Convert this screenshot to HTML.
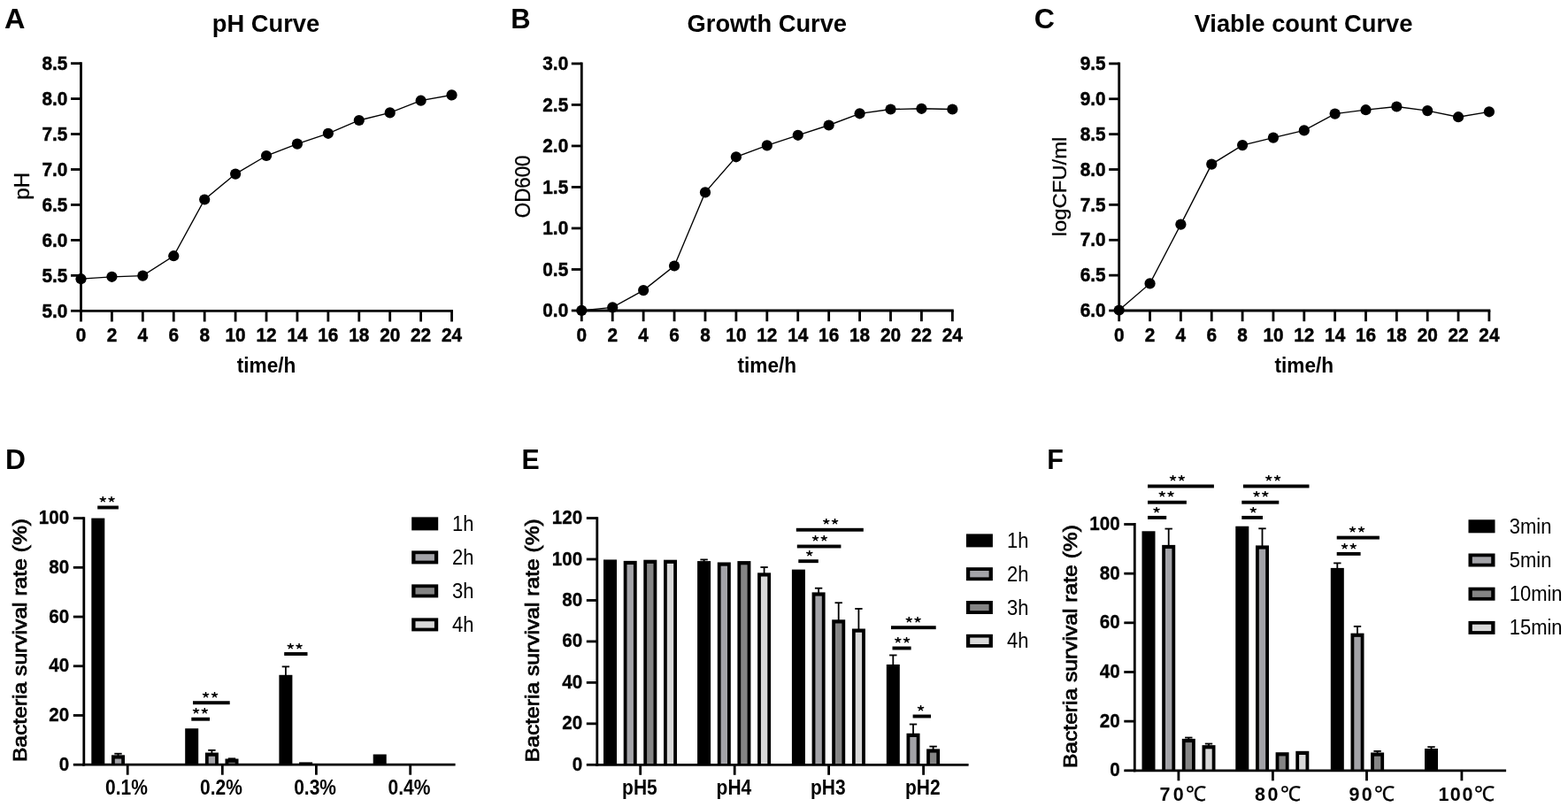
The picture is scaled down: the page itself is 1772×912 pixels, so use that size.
<!DOCTYPE html><html><head><meta charset="utf-8"><title>Figure</title><style>html,body{margin:0;padding:0;background:#fff;}svg{display:block;}</style></head><body>
<svg width="1772" height="912" viewBox="0 0 1772 912" font-family='"Liberation Sans", Arial, sans-serif'>
<rect width="1772" height="912" fill="#fff"/>
<text transform="translate(5.1,32.45) scale(1.03,1)" font-size="31.5" font-weight="bold" text-anchor="start">A</text>
<text transform="translate(300.5,35.8)" font-size="27.3" font-weight="bold" text-anchor="middle">pH Curve</text>
<line x1="91.5" y1="70.25" x2="91.5" y2="352.7" stroke="#000" stroke-width="2.8" stroke-linecap="butt"/>
<line x1="90.1" y1="351.3" x2="511.94" y2="351.3" stroke="#000" stroke-width="2.8" stroke-linecap="butt"/>
<line x1="80" y1="351.3" x2="91.5" y2="351.3" stroke="#000" stroke-width="2.8" stroke-linecap="butt"/>
<text transform="translate(76.4,358.5) scale(1,1.1)" font-size="20.8" font-weight="bold" text-anchor="end" stroke="#000" stroke-width="0.45">5.0</text>
<line x1="80" y1="311.35" x2="91.5" y2="311.35" stroke="#000" stroke-width="2.8" stroke-linecap="butt"/>
<text transform="translate(76.4,318.55) scale(1,1.1)" font-size="20.8" font-weight="bold" text-anchor="end" stroke="#000" stroke-width="0.45">5.5</text>
<line x1="80" y1="271.4" x2="91.5" y2="271.4" stroke="#000" stroke-width="2.8" stroke-linecap="butt"/>
<text transform="translate(76.4,278.6) scale(1,1.1)" font-size="20.8" font-weight="bold" text-anchor="end" stroke="#000" stroke-width="0.45">6.0</text>
<line x1="80" y1="231.45" x2="91.5" y2="231.45" stroke="#000" stroke-width="2.8" stroke-linecap="butt"/>
<text transform="translate(76.4,238.65) scale(1,1.1)" font-size="20.8" font-weight="bold" text-anchor="end" stroke="#000" stroke-width="0.45">6.5</text>
<line x1="80" y1="191.5" x2="91.5" y2="191.5" stroke="#000" stroke-width="2.8" stroke-linecap="butt"/>
<text transform="translate(76.4,198.7) scale(1,1.1)" font-size="20.8" font-weight="bold" text-anchor="end" stroke="#000" stroke-width="0.45">7.0</text>
<line x1="80" y1="151.55" x2="91.5" y2="151.55" stroke="#000" stroke-width="2.8" stroke-linecap="butt"/>
<text transform="translate(76.4,158.75) scale(1,1.1)" font-size="20.8" font-weight="bold" text-anchor="end" stroke="#000" stroke-width="0.45">7.5</text>
<line x1="80" y1="111.6" x2="91.5" y2="111.6" stroke="#000" stroke-width="2.8" stroke-linecap="butt"/>
<text transform="translate(76.4,118.8) scale(1,1.1)" font-size="20.8" font-weight="bold" text-anchor="end" stroke="#000" stroke-width="0.45">8.0</text>
<line x1="80" y1="71.65" x2="91.5" y2="71.65" stroke="#000" stroke-width="2.8" stroke-linecap="butt"/>
<text transform="translate(76.4,78.85) scale(1,1.1)" font-size="20.8" font-weight="bold" text-anchor="end" stroke="#000" stroke-width="0.45">8.5</text>
<line x1="91.5" y1="351.3" x2="91.5" y2="363.5" stroke="#000" stroke-width="2.8" stroke-linecap="butt"/>
<text transform="translate(91.5,386) scale(1,1.1)" font-size="20.8" font-weight="bold" text-anchor="middle" stroke="#000" stroke-width="0.45">0</text>
<line x1="126.42" y1="351.3" x2="126.42" y2="363.5" stroke="#000" stroke-width="2.8" stroke-linecap="butt"/>
<text transform="translate(126.42,386) scale(1,1.1)" font-size="20.8" font-weight="bold" text-anchor="middle" stroke="#000" stroke-width="0.45">2</text>
<line x1="161.34" y1="351.3" x2="161.34" y2="363.5" stroke="#000" stroke-width="2.8" stroke-linecap="butt"/>
<text transform="translate(161.34,386) scale(1,1.1)" font-size="20.8" font-weight="bold" text-anchor="middle" stroke="#000" stroke-width="0.45">4</text>
<line x1="196.26" y1="351.3" x2="196.26" y2="363.5" stroke="#000" stroke-width="2.8" stroke-linecap="butt"/>
<text transform="translate(196.26,386) scale(1,1.1)" font-size="20.8" font-weight="bold" text-anchor="middle" stroke="#000" stroke-width="0.45">6</text>
<line x1="231.18" y1="351.3" x2="231.18" y2="363.5" stroke="#000" stroke-width="2.8" stroke-linecap="butt"/>
<text transform="translate(231.18,386) scale(1,1.1)" font-size="20.8" font-weight="bold" text-anchor="middle" stroke="#000" stroke-width="0.45">8</text>
<line x1="266.1" y1="351.3" x2="266.1" y2="363.5" stroke="#000" stroke-width="2.8" stroke-linecap="butt"/>
<text transform="translate(266.1,386) scale(1,1.1)" font-size="20.8" font-weight="bold" text-anchor="middle" stroke="#000" stroke-width="0.45">10</text>
<line x1="301.02" y1="351.3" x2="301.02" y2="363.5" stroke="#000" stroke-width="2.8" stroke-linecap="butt"/>
<text transform="translate(301.02,386) scale(1,1.1)" font-size="20.8" font-weight="bold" text-anchor="middle" stroke="#000" stroke-width="0.45">12</text>
<line x1="335.94" y1="351.3" x2="335.94" y2="363.5" stroke="#000" stroke-width="2.8" stroke-linecap="butt"/>
<text transform="translate(335.94,386) scale(1,1.1)" font-size="20.8" font-weight="bold" text-anchor="middle" stroke="#000" stroke-width="0.45">14</text>
<line x1="370.86" y1="351.3" x2="370.86" y2="363.5" stroke="#000" stroke-width="2.8" stroke-linecap="butt"/>
<text transform="translate(370.86,386) scale(1,1.1)" font-size="20.8" font-weight="bold" text-anchor="middle" stroke="#000" stroke-width="0.45">16</text>
<line x1="405.78" y1="351.3" x2="405.78" y2="363.5" stroke="#000" stroke-width="2.8" stroke-linecap="butt"/>
<text transform="translate(405.78,386) scale(1,1.1)" font-size="20.8" font-weight="bold" text-anchor="middle" stroke="#000" stroke-width="0.45">18</text>
<line x1="440.7" y1="351.3" x2="440.7" y2="363.5" stroke="#000" stroke-width="2.8" stroke-linecap="butt"/>
<text transform="translate(440.7,386) scale(1,1.1)" font-size="20.8" font-weight="bold" text-anchor="middle" stroke="#000" stroke-width="0.45">20</text>
<line x1="475.62" y1="351.3" x2="475.62" y2="363.5" stroke="#000" stroke-width="2.8" stroke-linecap="butt"/>
<text transform="translate(475.62,386) scale(1,1.1)" font-size="20.8" font-weight="bold" text-anchor="middle" stroke="#000" stroke-width="0.45">22</text>
<line x1="510.54" y1="351.3" x2="510.54" y2="363.5" stroke="#000" stroke-width="2.8" stroke-linecap="butt"/>
<text transform="translate(510.54,386) scale(1,1.1)" font-size="20.8" font-weight="bold" text-anchor="middle" stroke="#000" stroke-width="0.45">24</text>
<polyline points="91.5,315.2 126.42,312.8 161.34,311.6 196.26,289.2 231.18,225.5 266.1,196.6 301.02,176 335.94,162.6 370.86,150.8 405.78,136 440.7,127.4 475.62,113.7 510.54,107.4" fill="none" stroke="#000" stroke-width="1.35"/>
<circle cx="91.5" cy="315.2" r="6.1"/>
<circle cx="126.42" cy="312.8" r="6.1"/>
<circle cx="161.34" cy="311.6" r="6.1"/>
<circle cx="196.26" cy="289.2" r="6.1"/>
<circle cx="231.18" cy="225.5" r="6.1"/>
<circle cx="266.1" cy="196.6" r="6.1"/>
<circle cx="301.02" cy="176" r="6.1"/>
<circle cx="335.94" cy="162.6" r="6.1"/>
<circle cx="370.86" cy="150.8" r="6.1"/>
<circle cx="405.78" cy="136" r="6.1"/>
<circle cx="440.7" cy="127.4" r="6.1"/>
<circle cx="475.62" cy="113.7" r="6.1"/>
<circle cx="510.54" cy="107.4" r="6.1"/>
<text transform="translate(301.02,421) scale(1,1.08)" font-size="22.65" font-weight="bold" text-anchor="middle">time/h</text>
<text transform="translate(33.4,210.3) rotate(-90) scale(1.08,1.05)" font-size="22.3" font-weight="normal" text-anchor="middle" stroke="#000" stroke-width="0.3">pH</text>
<text transform="translate(577.2,32.45) scale(0.98,1)" font-size="31.5" font-weight="bold" text-anchor="start">B</text>
<text transform="translate(866.8,35.8)" font-size="27.3" font-weight="bold" text-anchor="middle">Growth Curve</text>
<line x1="657.3" y1="70.51" x2="657.3" y2="352.4" stroke="#000" stroke-width="2.8" stroke-linecap="butt"/>
<line x1="655.9" y1="351" x2="1077.74" y2="351" stroke="#000" stroke-width="2.8" stroke-linecap="butt"/>
<line x1="645.8" y1="351" x2="657.3" y2="351" stroke="#000" stroke-width="2.8" stroke-linecap="butt"/>
<text transform="translate(642.2,358.2) scale(1,1.1)" font-size="20.8" font-weight="bold" text-anchor="end" stroke="#000" stroke-width="0.45">0.0</text>
<line x1="645.8" y1="304.49" x2="657.3" y2="304.49" stroke="#000" stroke-width="2.8" stroke-linecap="butt"/>
<text transform="translate(642.2,311.69) scale(1,1.1)" font-size="20.8" font-weight="bold" text-anchor="end" stroke="#000" stroke-width="0.45">0.5</text>
<line x1="645.8" y1="257.97" x2="657.3" y2="257.97" stroke="#000" stroke-width="2.8" stroke-linecap="butt"/>
<text transform="translate(642.2,265.17) scale(1,1.1)" font-size="20.8" font-weight="bold" text-anchor="end" stroke="#000" stroke-width="0.45">1.0</text>
<line x1="645.8" y1="211.45" x2="657.3" y2="211.45" stroke="#000" stroke-width="2.8" stroke-linecap="butt"/>
<text transform="translate(642.2,218.65) scale(1,1.1)" font-size="20.8" font-weight="bold" text-anchor="end" stroke="#000" stroke-width="0.45">1.5</text>
<line x1="645.8" y1="164.94" x2="657.3" y2="164.94" stroke="#000" stroke-width="2.8" stroke-linecap="butt"/>
<text transform="translate(642.2,172.14) scale(1,1.1)" font-size="20.8" font-weight="bold" text-anchor="end" stroke="#000" stroke-width="0.45">2.0</text>
<line x1="645.8" y1="118.43" x2="657.3" y2="118.43" stroke="#000" stroke-width="2.8" stroke-linecap="butt"/>
<text transform="translate(642.2,125.63) scale(1,1.1)" font-size="20.8" font-weight="bold" text-anchor="end" stroke="#000" stroke-width="0.45">2.5</text>
<line x1="645.8" y1="71.91" x2="657.3" y2="71.91" stroke="#000" stroke-width="2.8" stroke-linecap="butt"/>
<text transform="translate(642.2,79.11) scale(1,1.1)" font-size="20.8" font-weight="bold" text-anchor="end" stroke="#000" stroke-width="0.45">3.0</text>
<line x1="657.3" y1="351" x2="657.3" y2="363.2" stroke="#000" stroke-width="2.8" stroke-linecap="butt"/>
<text transform="translate(657.3,386) scale(1,1.1)" font-size="20.8" font-weight="bold" text-anchor="middle" stroke="#000" stroke-width="0.45">0</text>
<line x1="692.22" y1="351" x2="692.22" y2="363.2" stroke="#000" stroke-width="2.8" stroke-linecap="butt"/>
<text transform="translate(692.22,386) scale(1,1.1)" font-size="20.8" font-weight="bold" text-anchor="middle" stroke="#000" stroke-width="0.45">2</text>
<line x1="727.14" y1="351" x2="727.14" y2="363.2" stroke="#000" stroke-width="2.8" stroke-linecap="butt"/>
<text transform="translate(727.14,386) scale(1,1.1)" font-size="20.8" font-weight="bold" text-anchor="middle" stroke="#000" stroke-width="0.45">4</text>
<line x1="762.06" y1="351" x2="762.06" y2="363.2" stroke="#000" stroke-width="2.8" stroke-linecap="butt"/>
<text transform="translate(762.06,386) scale(1,1.1)" font-size="20.8" font-weight="bold" text-anchor="middle" stroke="#000" stroke-width="0.45">6</text>
<line x1="796.98" y1="351" x2="796.98" y2="363.2" stroke="#000" stroke-width="2.8" stroke-linecap="butt"/>
<text transform="translate(796.98,386) scale(1,1.1)" font-size="20.8" font-weight="bold" text-anchor="middle" stroke="#000" stroke-width="0.45">8</text>
<line x1="831.9" y1="351" x2="831.9" y2="363.2" stroke="#000" stroke-width="2.8" stroke-linecap="butt"/>
<text transform="translate(831.9,386) scale(1,1.1)" font-size="20.8" font-weight="bold" text-anchor="middle" stroke="#000" stroke-width="0.45">10</text>
<line x1="866.82" y1="351" x2="866.82" y2="363.2" stroke="#000" stroke-width="2.8" stroke-linecap="butt"/>
<text transform="translate(866.82,386) scale(1,1.1)" font-size="20.8" font-weight="bold" text-anchor="middle" stroke="#000" stroke-width="0.45">12</text>
<line x1="901.74" y1="351" x2="901.74" y2="363.2" stroke="#000" stroke-width="2.8" stroke-linecap="butt"/>
<text transform="translate(901.74,386) scale(1,1.1)" font-size="20.8" font-weight="bold" text-anchor="middle" stroke="#000" stroke-width="0.45">14</text>
<line x1="936.66" y1="351" x2="936.66" y2="363.2" stroke="#000" stroke-width="2.8" stroke-linecap="butt"/>
<text transform="translate(936.66,386) scale(1,1.1)" font-size="20.8" font-weight="bold" text-anchor="middle" stroke="#000" stroke-width="0.45">16</text>
<line x1="971.58" y1="351" x2="971.58" y2="363.2" stroke="#000" stroke-width="2.8" stroke-linecap="butt"/>
<text transform="translate(971.58,386) scale(1,1.1)" font-size="20.8" font-weight="bold" text-anchor="middle" stroke="#000" stroke-width="0.45">18</text>
<line x1="1006.5" y1="351" x2="1006.5" y2="363.2" stroke="#000" stroke-width="2.8" stroke-linecap="butt"/>
<text transform="translate(1006.5,386) scale(1,1.1)" font-size="20.8" font-weight="bold" text-anchor="middle" stroke="#000" stroke-width="0.45">20</text>
<line x1="1041.42" y1="351" x2="1041.42" y2="363.2" stroke="#000" stroke-width="2.8" stroke-linecap="butt"/>
<text transform="translate(1041.42,386) scale(1,1.1)" font-size="20.8" font-weight="bold" text-anchor="middle" stroke="#000" stroke-width="0.45">22</text>
<line x1="1076.34" y1="351" x2="1076.34" y2="363.2" stroke="#000" stroke-width="2.8" stroke-linecap="butt"/>
<text transform="translate(1076.34,386) scale(1,1.1)" font-size="20.8" font-weight="bold" text-anchor="middle" stroke="#000" stroke-width="0.45">24</text>
<polyline points="657.3,350.9 692.22,347.4 727.14,328.1 762.06,300.5 796.98,217.4 831.9,177.3 866.82,164.4 901.74,152.8 936.66,141.5 971.58,128.3 1006.5,123.5 1041.42,122.8 1076.34,123.5" fill="none" stroke="#000" stroke-width="1.35"/>
<circle cx="657.3" cy="350.9" r="6.1"/>
<circle cx="692.22" cy="347.4" r="6.1"/>
<circle cx="727.14" cy="328.1" r="6.1"/>
<circle cx="762.06" cy="300.5" r="6.1"/>
<circle cx="796.98" cy="217.4" r="6.1"/>
<circle cx="831.9" cy="177.3" r="6.1"/>
<circle cx="866.82" cy="164.4" r="6.1"/>
<circle cx="901.74" cy="152.8" r="6.1"/>
<circle cx="936.66" cy="141.5" r="6.1"/>
<circle cx="971.58" cy="128.3" r="6.1"/>
<circle cx="1006.5" cy="123.5" r="6.1"/>
<circle cx="1041.42" cy="122.8" r="6.1"/>
<circle cx="1076.34" cy="123.5" r="6.1"/>
<text transform="translate(866.82,421) scale(1,1.08)" font-size="22.65" font-weight="bold" text-anchor="middle">time/h</text>
<text transform="translate(599.3,210.85) rotate(-90) scale(0.91,1)" font-size="24.5" font-weight="normal" text-anchor="middle" stroke="#000" stroke-width="0.3">OD600</text>
<text transform="translate(1168.8,32.45) scale(1.02,1)" font-size="31.5" font-weight="bold" text-anchor="start">C</text>
<text transform="translate(1473,35.8)" font-size="27.3" font-weight="bold" text-anchor="middle">Viable count Curve</text>
<line x1="1264.7" y1="70.51" x2="1264.7" y2="352.4" stroke="#000" stroke-width="2.8" stroke-linecap="butt"/>
<line x1="1263.3" y1="351" x2="1684.3" y2="351" stroke="#000" stroke-width="2.8" stroke-linecap="butt"/>
<line x1="1253.2" y1="351" x2="1264.7" y2="351" stroke="#000" stroke-width="2.8" stroke-linecap="butt"/>
<text transform="translate(1249.6,358.2) scale(1,1.1)" font-size="20.8" font-weight="bold" text-anchor="end" stroke="#000" stroke-width="0.45">6.0</text>
<line x1="1253.2" y1="311.13" x2="1264.7" y2="311.13" stroke="#000" stroke-width="2.8" stroke-linecap="butt"/>
<text transform="translate(1249.6,318.33) scale(1,1.1)" font-size="20.8" font-weight="bold" text-anchor="end" stroke="#000" stroke-width="0.45">6.5</text>
<line x1="1253.2" y1="271.26" x2="1264.7" y2="271.26" stroke="#000" stroke-width="2.8" stroke-linecap="butt"/>
<text transform="translate(1249.6,278.46) scale(1,1.1)" font-size="20.8" font-weight="bold" text-anchor="end" stroke="#000" stroke-width="0.45">7.0</text>
<line x1="1253.2" y1="231.39" x2="1264.7" y2="231.39" stroke="#000" stroke-width="2.8" stroke-linecap="butt"/>
<text transform="translate(1249.6,238.59) scale(1,1.1)" font-size="20.8" font-weight="bold" text-anchor="end" stroke="#000" stroke-width="0.45">7.5</text>
<line x1="1253.2" y1="191.52" x2="1264.7" y2="191.52" stroke="#000" stroke-width="2.8" stroke-linecap="butt"/>
<text transform="translate(1249.6,198.72) scale(1,1.1)" font-size="20.8" font-weight="bold" text-anchor="end" stroke="#000" stroke-width="0.45">8.0</text>
<line x1="1253.2" y1="151.65" x2="1264.7" y2="151.65" stroke="#000" stroke-width="2.8" stroke-linecap="butt"/>
<text transform="translate(1249.6,158.85) scale(1,1.1)" font-size="20.8" font-weight="bold" text-anchor="end" stroke="#000" stroke-width="0.45">8.5</text>
<line x1="1253.2" y1="111.78" x2="1264.7" y2="111.78" stroke="#000" stroke-width="2.8" stroke-linecap="butt"/>
<text transform="translate(1249.6,118.98) scale(1,1.1)" font-size="20.8" font-weight="bold" text-anchor="end" stroke="#000" stroke-width="0.45">9.0</text>
<line x1="1253.2" y1="71.91" x2="1264.7" y2="71.91" stroke="#000" stroke-width="2.8" stroke-linecap="butt"/>
<text transform="translate(1249.6,79.11) scale(1,1.1)" font-size="20.8" font-weight="bold" text-anchor="end" stroke="#000" stroke-width="0.45">9.5</text>
<line x1="1264.7" y1="351" x2="1264.7" y2="363.2" stroke="#000" stroke-width="2.8" stroke-linecap="butt"/>
<text transform="translate(1264.7,386) scale(1,1.1)" font-size="20.8" font-weight="bold" text-anchor="middle" stroke="#000" stroke-width="0.45">0</text>
<line x1="1299.55" y1="351" x2="1299.55" y2="363.2" stroke="#000" stroke-width="2.8" stroke-linecap="butt"/>
<text transform="translate(1299.55,386) scale(1,1.1)" font-size="20.8" font-weight="bold" text-anchor="middle" stroke="#000" stroke-width="0.45">2</text>
<line x1="1334.4" y1="351" x2="1334.4" y2="363.2" stroke="#000" stroke-width="2.8" stroke-linecap="butt"/>
<text transform="translate(1334.4,386) scale(1,1.1)" font-size="20.8" font-weight="bold" text-anchor="middle" stroke="#000" stroke-width="0.45">4</text>
<line x1="1369.25" y1="351" x2="1369.25" y2="363.2" stroke="#000" stroke-width="2.8" stroke-linecap="butt"/>
<text transform="translate(1369.25,386) scale(1,1.1)" font-size="20.8" font-weight="bold" text-anchor="middle" stroke="#000" stroke-width="0.45">6</text>
<line x1="1404.1" y1="351" x2="1404.1" y2="363.2" stroke="#000" stroke-width="2.8" stroke-linecap="butt"/>
<text transform="translate(1404.1,386) scale(1,1.1)" font-size="20.8" font-weight="bold" text-anchor="middle" stroke="#000" stroke-width="0.45">8</text>
<line x1="1438.95" y1="351" x2="1438.95" y2="363.2" stroke="#000" stroke-width="2.8" stroke-linecap="butt"/>
<text transform="translate(1438.95,386) scale(1,1.1)" font-size="20.8" font-weight="bold" text-anchor="middle" stroke="#000" stroke-width="0.45">10</text>
<line x1="1473.8" y1="351" x2="1473.8" y2="363.2" stroke="#000" stroke-width="2.8" stroke-linecap="butt"/>
<text transform="translate(1473.8,386) scale(1,1.1)" font-size="20.8" font-weight="bold" text-anchor="middle" stroke="#000" stroke-width="0.45">12</text>
<line x1="1508.65" y1="351" x2="1508.65" y2="363.2" stroke="#000" stroke-width="2.8" stroke-linecap="butt"/>
<text transform="translate(1508.65,386) scale(1,1.1)" font-size="20.8" font-weight="bold" text-anchor="middle" stroke="#000" stroke-width="0.45">14</text>
<line x1="1543.5" y1="351" x2="1543.5" y2="363.2" stroke="#000" stroke-width="2.8" stroke-linecap="butt"/>
<text transform="translate(1543.5,386) scale(1,1.1)" font-size="20.8" font-weight="bold" text-anchor="middle" stroke="#000" stroke-width="0.45">16</text>
<line x1="1578.35" y1="351" x2="1578.35" y2="363.2" stroke="#000" stroke-width="2.8" stroke-linecap="butt"/>
<text transform="translate(1578.35,386) scale(1,1.1)" font-size="20.8" font-weight="bold" text-anchor="middle" stroke="#000" stroke-width="0.45">18</text>
<line x1="1613.2" y1="351" x2="1613.2" y2="363.2" stroke="#000" stroke-width="2.8" stroke-linecap="butt"/>
<text transform="translate(1613.2,386) scale(1,1.1)" font-size="20.8" font-weight="bold" text-anchor="middle" stroke="#000" stroke-width="0.45">20</text>
<line x1="1648.05" y1="351" x2="1648.05" y2="363.2" stroke="#000" stroke-width="2.8" stroke-linecap="butt"/>
<text transform="translate(1648.05,386) scale(1,1.1)" font-size="20.8" font-weight="bold" text-anchor="middle" stroke="#000" stroke-width="0.45">22</text>
<line x1="1682.9" y1="351" x2="1682.9" y2="363.2" stroke="#000" stroke-width="2.8" stroke-linecap="butt"/>
<text transform="translate(1682.9,386) scale(1,1.1)" font-size="20.8" font-weight="bold" text-anchor="middle" stroke="#000" stroke-width="0.45">24</text>
<polyline points="1264.7,350.5 1299.55,320.4 1334.4,253.6 1369.25,185.6 1404.1,164.1 1438.95,155.6 1473.8,147.4 1508.65,128.6 1543.5,124.2 1578.35,120.5 1613.2,125.1 1648.05,132.2 1682.9,126.3" fill="none" stroke="#000" stroke-width="1.35"/>
<circle cx="1264.7" cy="350.5" r="6.1"/>
<circle cx="1299.55" cy="320.4" r="6.1"/>
<circle cx="1334.4" cy="253.6" r="6.1"/>
<circle cx="1369.25" cy="185.6" r="6.1"/>
<circle cx="1404.1" cy="164.1" r="6.1"/>
<circle cx="1438.95" cy="155.6" r="6.1"/>
<circle cx="1473.8" cy="147.4" r="6.1"/>
<circle cx="1508.65" cy="128.6" r="6.1"/>
<circle cx="1543.5" cy="124.2" r="6.1"/>
<circle cx="1578.35" cy="120.5" r="6.1"/>
<circle cx="1613.2" cy="125.1" r="6.1"/>
<circle cx="1648.05" cy="132.2" r="6.1"/>
<circle cx="1682.9" cy="126.3" r="6.1"/>
<text transform="translate(1473.8,421) scale(1,1.08)" font-size="22.65" font-weight="bold" text-anchor="middle">time/h</text>
<text transform="translate(1204.5,211) rotate(-90) scale(1.12,1)" font-size="21.3" font-weight="normal" text-anchor="middle" stroke="#000" stroke-width="0.3">logCFU/ml</text>
<text transform="translate(5.9,530.3) scale(1.01,1)" font-size="31.5" font-weight="bold" text-anchor="start">D</text>
<line x1="94.8" y1="584.2" x2="94.8" y2="865.6" stroke="#000" stroke-width="2.8" stroke-linecap="butt"/>
<line x1="82.8" y1="864.2" x2="94.8" y2="864.2" stroke="#000" stroke-width="2.8" stroke-linecap="butt"/>
<text transform="translate(78.2,870.7) scale(1,1.09)" font-size="20.6" font-weight="bold" text-anchor="end" stroke="#000" stroke-width="0.3">0</text>
<line x1="82.8" y1="808.48" x2="94.8" y2="808.48" stroke="#000" stroke-width="2.8" stroke-linecap="butt"/>
<text transform="translate(78.2,814.98) scale(1,1.09)" font-size="20.6" font-weight="bold" text-anchor="end" stroke="#000" stroke-width="0.3">20</text>
<line x1="82.8" y1="752.76" x2="94.8" y2="752.76" stroke="#000" stroke-width="2.8" stroke-linecap="butt"/>
<text transform="translate(78.2,759.26) scale(1,1.09)" font-size="20.6" font-weight="bold" text-anchor="end" stroke="#000" stroke-width="0.3">40</text>
<line x1="82.8" y1="697.04" x2="94.8" y2="697.04" stroke="#000" stroke-width="2.8" stroke-linecap="butt"/>
<text transform="translate(78.2,703.54) scale(1,1.09)" font-size="20.6" font-weight="bold" text-anchor="end" stroke="#000" stroke-width="0.3">60</text>
<line x1="82.8" y1="641.32" x2="94.8" y2="641.32" stroke="#000" stroke-width="2.8" stroke-linecap="butt"/>
<text transform="translate(78.2,647.82) scale(1,1.09)" font-size="20.6" font-weight="bold" text-anchor="end" stroke="#000" stroke-width="0.3">80</text>
<line x1="82.8" y1="585.6" x2="94.8" y2="585.6" stroke="#000" stroke-width="2.8" stroke-linecap="butt"/>
<text transform="translate(78.2,592.1) scale(1,1.09)" font-size="20.6" font-weight="bold" text-anchor="end" stroke="#000" stroke-width="0.3">100</text>
<line x1="144.2" y1="864.2" x2="144.2" y2="875.7" stroke="#000" stroke-width="2.8" stroke-linecap="butt"/>
<line x1="251.3" y1="864.2" x2="251.3" y2="875.7" stroke="#000" stroke-width="2.8" stroke-linecap="butt"/>
<line x1="357.4" y1="864.2" x2="357.4" y2="875.7" stroke="#000" stroke-width="2.8" stroke-linecap="butt"/>
<line x1="463.7" y1="864.2" x2="463.7" y2="875.7" stroke="#000" stroke-width="2.8" stroke-linecap="butt"/>
<rect x="103.3" y="585.6" width="15" height="278.6" fill="#000"/>
<line x1="133.5" y1="851.73" x2="133.5" y2="854.33" stroke="#000" stroke-width="1.8" stroke-linecap="butt"/>
<line x1="129.3" y1="851.73" x2="137.7" y2="851.73" stroke="#000" stroke-width="1.8" stroke-linecap="butt"/>
<rect x="126" y="853.33" width="15" height="10.87" fill="#000"/>
<rect x="129.8" y="857.53" width="7.4" height="6.67" fill="#a3a3a8"/>
<rect x="209.2" y="823.25" width="15" height="40.95" fill="#000"/>
<line x1="239.4" y1="847.83" x2="239.4" y2="851.55" stroke="#000" stroke-width="1.8" stroke-linecap="butt"/>
<line x1="235.2" y1="847.83" x2="243.6" y2="847.83" stroke="#000" stroke-width="1.8" stroke-linecap="butt"/>
<rect x="231.9" y="850.55" width="15" height="13.65" fill="#000"/>
<rect x="235.7" y="854.75" width="7.4" height="9.45" fill="#a3a3a8"/>
<line x1="262" y1="857.3" x2="262" y2="858.51" stroke="#000" stroke-width="1.8" stroke-linecap="butt"/>
<line x1="257.8" y1="857.3" x2="266.2" y2="857.3" stroke="#000" stroke-width="1.8" stroke-linecap="butt"/>
<rect x="254.5" y="857.51" width="15" height="6.69" fill="#000"/>
<rect x="258.3" y="861.71" width="7.4" height="2.49" fill="#858585"/>
<line x1="322.9" y1="753.38" x2="322.9" y2="763.79" stroke="#000" stroke-width="1.8" stroke-linecap="butt"/>
<line x1="318.7" y1="753.38" x2="327.1" y2="753.38" stroke="#000" stroke-width="1.8" stroke-linecap="butt"/>
<rect x="315.4" y="762.79" width="15" height="101.41" fill="#000"/>
<rect x="338.1" y="861.41" width="15" height="2.79" fill="#000"/>
<rect x="421.7" y="852.5" width="15" height="11.7" fill="#000"/>
<line x1="93.4" y1="864.2" x2="514.6" y2="864.2" stroke="#000" stroke-width="2.8" stroke-linecap="butt"/>
<text transform="translate(30,723.55) rotate(-90) scale(1.1,1)" font-size="22.4" font-weight="normal" text-anchor="middle" stroke="#000" stroke-width="0.75">Bacteria survival rate (%)</text>
<text transform="translate(142.9,897.8) scale(1,1.12)" font-size="21" font-weight="bold" text-anchor="middle">0.1%</text>
<text transform="translate(250,897.8) scale(1,1.12)" font-size="21" font-weight="bold" text-anchor="middle">0.2%</text>
<text transform="translate(356.1,897.8) scale(1,1.12)" font-size="21" font-weight="bold" text-anchor="middle">0.3%</text>
<text transform="translate(462.4,897.8) scale(1,1.12)" font-size="21" font-weight="bold" text-anchor="middle">0.4%</text>
<rect x="465.2" y="584.4" width="30" height="15" fill="#000"/>
<text transform="translate(511,599.9) scale(1,1.05)" font-size="22" font-weight="normal" text-anchor="start">1h</text>
<rect x="465.2" y="622.4" width="30" height="15" fill="#000"/>
<rect x="469.5" y="626.2" width="21.4" height="7.4" fill="#a3a3a8"/>
<text transform="translate(511,637.9) scale(1,1.05)" font-size="22" font-weight="normal" text-anchor="start">2h</text>
<rect x="465.2" y="660.4" width="30" height="15" fill="#000"/>
<rect x="469.5" y="664.2" width="21.4" height="7.4" fill="#858585"/>
<text transform="translate(511,675.9) scale(1,1.05)" font-size="22" font-weight="normal" text-anchor="start">3h</text>
<rect x="465.2" y="698.4" width="30" height="15" fill="#000"/>
<rect x="469.5" y="702.2" width="21.4" height="7.4" fill="#d9d9d9"/>
<text transform="translate(511,713.9) scale(1,1.05)" font-size="22" font-weight="normal" text-anchor="start">4h</text>
<rect x="110.2" y="571.55" width="23.7" height="3.9" fill="#000"/>
<text transform="translate(120.93,576.1) scale(0.95,0.85)" font-size="22" font-weight="500" text-anchor="middle" font-family='"Noto Sans CJK SC", sans-serif' letter-spacing="-0.35">**</text>
<rect x="216.3" y="810.75" width="20.7" height="3.9" fill="#000"/>
<text transform="translate(226.23,815.3) scale(0.95,0.85)" font-size="22" font-weight="500" text-anchor="middle" font-family='"Noto Sans CJK SC", sans-serif' letter-spacing="-0.35">**</text>
<rect x="218" y="792.25" width="41.7" height="3.9" fill="#000"/>
<text transform="translate(237.38,796.8) scale(0.95,0.85)" font-size="22" font-weight="500" text-anchor="middle" font-family='"Noto Sans CJK SC", sans-serif' letter-spacing="-0.35">**</text>
<rect x="321.2" y="737.05" width="26.3" height="3.9" fill="#000"/>
<text transform="translate(333.08,741.6) scale(0.95,0.85)" font-size="22" font-weight="500" text-anchor="middle" font-family='"Noto Sans CJK SC", sans-serif' letter-spacing="-0.35">**</text>
<text transform="translate(589.5,530.3) scale(0.96,1)" font-size="31.5" font-weight="bold" text-anchor="start">E</text>
<line x1="674.8" y1="584.14" x2="674.8" y2="865.7" stroke="#000" stroke-width="2.8" stroke-linecap="butt"/>
<line x1="662.8" y1="864.3" x2="674.8" y2="864.3" stroke="#000" stroke-width="2.8" stroke-linecap="butt"/>
<text transform="translate(658.2,870.8) scale(1,1.09)" font-size="20.6" font-weight="bold" text-anchor="end" stroke="#000" stroke-width="0.3">0</text>
<line x1="662.8" y1="817.84" x2="674.8" y2="817.84" stroke="#000" stroke-width="2.8" stroke-linecap="butt"/>
<text transform="translate(658.2,824.34) scale(1,1.09)" font-size="20.6" font-weight="bold" text-anchor="end" stroke="#000" stroke-width="0.3">20</text>
<line x1="662.8" y1="771.38" x2="674.8" y2="771.38" stroke="#000" stroke-width="2.8" stroke-linecap="butt"/>
<text transform="translate(658.2,777.88) scale(1,1.09)" font-size="20.6" font-weight="bold" text-anchor="end" stroke="#000" stroke-width="0.3">40</text>
<line x1="662.8" y1="724.92" x2="674.8" y2="724.92" stroke="#000" stroke-width="2.8" stroke-linecap="butt"/>
<text transform="translate(658.2,731.42) scale(1,1.09)" font-size="20.6" font-weight="bold" text-anchor="end" stroke="#000" stroke-width="0.3">60</text>
<line x1="662.8" y1="678.46" x2="674.8" y2="678.46" stroke="#000" stroke-width="2.8" stroke-linecap="butt"/>
<text transform="translate(658.2,684.96) scale(1,1.09)" font-size="20.6" font-weight="bold" text-anchor="end" stroke="#000" stroke-width="0.3">80</text>
<line x1="662.8" y1="632" x2="674.8" y2="632" stroke="#000" stroke-width="2.8" stroke-linecap="butt"/>
<text transform="translate(658.2,638.5) scale(1,1.09)" font-size="20.6" font-weight="bold" text-anchor="end" stroke="#000" stroke-width="0.3">100</text>
<line x1="662.8" y1="585.54" x2="674.8" y2="585.54" stroke="#000" stroke-width="2.8" stroke-linecap="butt"/>
<text transform="translate(658.2,592.04) scale(1,1.09)" font-size="20.6" font-weight="bold" text-anchor="end" stroke="#000" stroke-width="0.3">120</text>
<line x1="723.7" y1="864.3" x2="723.7" y2="875.8" stroke="#000" stroke-width="2.8" stroke-linecap="butt"/>
<line x1="830.2" y1="864.3" x2="830.2" y2="875.8" stroke="#000" stroke-width="2.8" stroke-linecap="butt"/>
<line x1="936.6" y1="864.3" x2="936.6" y2="875.8" stroke="#000" stroke-width="2.8" stroke-linecap="butt"/>
<line x1="1043.6" y1="864.3" x2="1043.6" y2="875.8" stroke="#000" stroke-width="2.8" stroke-linecap="butt"/>
<rect x="682" y="632.46" width="15" height="231.84" fill="#000"/>
<rect x="704.7" y="633.86" width="15" height="230.44" fill="#000"/>
<rect x="708.5" y="638.06" width="7.4" height="226.24" fill="#a3a3a8"/>
<rect x="727.3" y="632.7" width="15" height="231.6" fill="#000"/>
<rect x="731.1" y="636.9" width="7.4" height="227.4" fill="#858585"/>
<rect x="750" y="632.7" width="15" height="231.6" fill="#000"/>
<rect x="753.8" y="636.9" width="7.4" height="227.4" fill="#d9d9d9"/>
<line x1="795.6" y1="632.44" x2="795.6" y2="635.09" stroke="#000" stroke-width="1.8" stroke-linecap="butt"/>
<line x1="791.4" y1="632.44" x2="799.8" y2="632.44" stroke="#000" stroke-width="1.8" stroke-linecap="butt"/>
<rect x="788.1" y="634.09" width="15" height="230.21" fill="#000"/>
<rect x="810.8" y="635.48" width="15" height="228.82" fill="#000"/>
<rect x="814.6" y="639.68" width="7.4" height="224.62" fill="#a3a3a8"/>
<rect x="833.4" y="634.09" width="15" height="230.21" fill="#000"/>
<rect x="837.2" y="638.29" width="7.4" height="226.01" fill="#858585"/>
<line x1="863.6" y1="641.03" x2="863.6" y2="648.33" stroke="#000" stroke-width="1.8" stroke-linecap="butt"/>
<line x1="859.4" y1="641.03" x2="867.8" y2="641.03" stroke="#000" stroke-width="1.8" stroke-linecap="butt"/>
<rect x="856.1" y="647.33" width="15" height="216.97" fill="#000"/>
<rect x="859.9" y="651.53" width="7.4" height="212.77" fill="#d9d9d9"/>
<rect x="894.9" y="643.62" width="15" height="220.68" fill="#000"/>
<line x1="925.1" y1="664.73" x2="925.1" y2="670.4" stroke="#000" stroke-width="1.8" stroke-linecap="butt"/>
<line x1="920.9" y1="664.73" x2="929.3" y2="664.73" stroke="#000" stroke-width="1.8" stroke-linecap="butt"/>
<rect x="917.6" y="669.4" width="15" height="194.9" fill="#000"/>
<rect x="921.4" y="673.6" width="7.4" height="190.7" fill="#a3a3a8"/>
<line x1="947.7" y1="681.22" x2="947.7" y2="701.3" stroke="#000" stroke-width="1.8" stroke-linecap="butt"/>
<line x1="943.5" y1="681.22" x2="951.9" y2="681.22" stroke="#000" stroke-width="1.8" stroke-linecap="butt"/>
<rect x="940.2" y="700.3" width="15" height="164" fill="#000"/>
<rect x="944" y="704.5" width="7.4" height="159.8" fill="#858585"/>
<line x1="970.4" y1="687.96" x2="970.4" y2="711.52" stroke="#000" stroke-width="1.8" stroke-linecap="butt"/>
<line x1="966.2" y1="687.96" x2="974.6" y2="687.96" stroke="#000" stroke-width="1.8" stroke-linecap="butt"/>
<rect x="962.9" y="710.52" width="15" height="153.78" fill="#000"/>
<rect x="966.7" y="714.72" width="7.4" height="149.58" fill="#d9d9d9"/>
<line x1="1009.3" y1="740.45" x2="1009.3" y2="751.94" stroke="#000" stroke-width="1.8" stroke-linecap="butt"/>
<line x1="1005.1" y1="740.45" x2="1013.5" y2="740.45" stroke="#000" stroke-width="1.8" stroke-linecap="butt"/>
<rect x="1001.8" y="750.94" width="15" height="113.36" fill="#000"/>
<line x1="1032" y1="818.51" x2="1032" y2="829.76" stroke="#000" stroke-width="1.8" stroke-linecap="butt"/>
<line x1="1027.8" y1="818.51" x2="1036.2" y2="818.51" stroke="#000" stroke-width="1.8" stroke-linecap="butt"/>
<rect x="1024.5" y="828.76" width="15" height="35.54" fill="#000"/>
<rect x="1028.3" y="832.96" width="7.4" height="31.34" fill="#a3a3a8"/>
<line x1="1054.6" y1="843.6" x2="1054.6" y2="847.41" stroke="#000" stroke-width="1.8" stroke-linecap="butt"/>
<line x1="1050.4" y1="843.6" x2="1058.8" y2="843.6" stroke="#000" stroke-width="1.8" stroke-linecap="butt"/>
<rect x="1047.1" y="846.41" width="15" height="17.89" fill="#000"/>
<rect x="1050.9" y="850.61" width="7.4" height="13.69" fill="#858585"/>
<line x1="673.4" y1="864.3" x2="1094.6" y2="864.3" stroke="#000" stroke-width="2.8" stroke-linecap="butt"/>
<text transform="translate(608.9,723.7) rotate(-90) scale(1.1,1)" font-size="22.4" font-weight="normal" text-anchor="middle" stroke="#000" stroke-width="0.75">Bacteria survival rate (%)</text>
<text transform="translate(722.9,897.9) scale(1,1.12)" font-size="21" font-weight="bold" text-anchor="middle">pH5</text>
<text transform="translate(829.4,897.9) scale(1,1.12)" font-size="21" font-weight="bold" text-anchor="middle">pH4</text>
<text transform="translate(935.8,897.9) scale(1,1.12)" font-size="21" font-weight="bold" text-anchor="middle">pH3</text>
<text transform="translate(1042.8,897.9) scale(1,1.12)" font-size="21" font-weight="bold" text-anchor="middle">pH2</text>
<rect x="1091.9" y="603.4" width="30" height="15" fill="#000"/>
<text transform="translate(1137.9,618.9) scale(1,1.05)" font-size="22" font-weight="normal" text-anchor="start">1h</text>
<rect x="1091.9" y="641.2" width="30" height="15" fill="#000"/>
<rect x="1096.2" y="645" width="21.4" height="7.4" fill="#a3a3a8"/>
<text transform="translate(1137.9,656.7) scale(1,1.05)" font-size="22" font-weight="normal" text-anchor="start">2h</text>
<rect x="1091.9" y="679" width="30" height="15" fill="#000"/>
<rect x="1096.2" y="682.8" width="21.4" height="7.4" fill="#858585"/>
<text transform="translate(1137.9,694.5) scale(1,1.05)" font-size="22" font-weight="normal" text-anchor="start">3h</text>
<rect x="1091.9" y="716.8" width="30" height="15" fill="#000"/>
<rect x="1096.2" y="720.6" width="21.4" height="7.4" fill="#d9d9d9"/>
<text transform="translate(1137.9,732.3) scale(1,1.05)" font-size="22" font-weight="normal" text-anchor="start">4h</text>
<rect x="902.3" y="632.25" width="22.5" height="3.9" fill="#000"/>
<text transform="translate(914.75,636.8) scale(0.95,0.85)" font-size="22" font-weight="500" text-anchor="middle" font-family='"Noto Sans CJK SC", sans-serif'>*</text>
<rect x="900.8" y="615.55" width="49.6" height="3.9" fill="#000"/>
<text transform="translate(926.23,620.1) scale(0.95,0.85)" font-size="22" font-weight="500" text-anchor="middle" font-family='"Noto Sans CJK SC", sans-serif' letter-spacing="-0.35">**</text>
<rect x="899.8" y="596.8" width="76" height="3.9" fill="#000"/>
<text transform="translate(938.43,601.35) scale(0.95,0.85)" font-size="22" font-weight="500" text-anchor="middle" font-family='"Noto Sans CJK SC", sans-serif' letter-spacing="-0.35">**</text>
<rect x="1008.5" y="730.55" width="21.1" height="3.9" fill="#000"/>
<text transform="translate(1019.48,735.1) scale(0.95,0.85)" font-size="22" font-weight="500" text-anchor="middle" font-family='"Noto Sans CJK SC", sans-serif' letter-spacing="-0.35">**</text>
<rect x="1007" y="707.25" width="50.7" height="3.9" fill="#000"/>
<text transform="translate(1031.98,711.8) scale(0.95,0.85)" font-size="22" font-weight="500" text-anchor="middle" font-family='"Noto Sans CJK SC", sans-serif' letter-spacing="-0.35">**</text>
<rect x="1031.6" y="807.55" width="20.4" height="3.9" fill="#000"/>
<text transform="translate(1040.5,812.1) scale(0.95,0.85)" font-size="22" font-weight="500" text-anchor="middle" font-family='"Noto Sans CJK SC", sans-serif'>*</text>
<text transform="translate(1183.35,530.3) scale(0.97,1)" font-size="31.5" font-weight="bold" text-anchor="start">F</text>
<line x1="1282.3" y1="591.1" x2="1282.3" y2="872.2" stroke="#000" stroke-width="2.8" stroke-linecap="butt"/>
<line x1="1270.3" y1="870.8" x2="1282.3" y2="870.8" stroke="#000" stroke-width="2.8" stroke-linecap="butt"/>
<text transform="translate(1265.7,877.3) scale(1,1.09)" font-size="20.6" font-weight="bold" text-anchor="end" stroke="#000" stroke-width="0.3">0</text>
<line x1="1270.3" y1="815.14" x2="1282.3" y2="815.14" stroke="#000" stroke-width="2.8" stroke-linecap="butt"/>
<text transform="translate(1265.7,821.64) scale(1,1.09)" font-size="20.6" font-weight="bold" text-anchor="end" stroke="#000" stroke-width="0.3">20</text>
<line x1="1270.3" y1="759.48" x2="1282.3" y2="759.48" stroke="#000" stroke-width="2.8" stroke-linecap="butt"/>
<text transform="translate(1265.7,765.98) scale(1,1.09)" font-size="20.6" font-weight="bold" text-anchor="end" stroke="#000" stroke-width="0.3">40</text>
<line x1="1270.3" y1="703.82" x2="1282.3" y2="703.82" stroke="#000" stroke-width="2.8" stroke-linecap="butt"/>
<text transform="translate(1265.7,710.32) scale(1,1.09)" font-size="20.6" font-weight="bold" text-anchor="end" stroke="#000" stroke-width="0.3">60</text>
<line x1="1270.3" y1="648.16" x2="1282.3" y2="648.16" stroke="#000" stroke-width="2.8" stroke-linecap="butt"/>
<text transform="translate(1265.7,654.66) scale(1,1.09)" font-size="20.6" font-weight="bold" text-anchor="end" stroke="#000" stroke-width="0.3">80</text>
<line x1="1270.3" y1="592.5" x2="1282.3" y2="592.5" stroke="#000" stroke-width="2.8" stroke-linecap="butt"/>
<text transform="translate(1265.7,599) scale(1,1.09)" font-size="20.6" font-weight="bold" text-anchor="end" stroke="#000" stroke-width="0.3">100</text>
<line x1="1331.9" y1="870.8" x2="1331.9" y2="882.3" stroke="#000" stroke-width="2.8" stroke-linecap="butt"/>
<line x1="1438.4" y1="870.8" x2="1438.4" y2="882.3" stroke="#000" stroke-width="2.8" stroke-linecap="butt"/>
<line x1="1544.5" y1="870.8" x2="1544.5" y2="882.3" stroke="#000" stroke-width="2.8" stroke-linecap="butt"/>
<line x1="1651.9" y1="870.8" x2="1651.9" y2="882.3" stroke="#000" stroke-width="2.8" stroke-linecap="butt"/>
<rect x="1290.5" y="600.29" width="15" height="270.51" fill="#000"/>
<line x1="1320.7" y1="597.57" x2="1320.7" y2="616.88" stroke="#000" stroke-width="1.8" stroke-linecap="butt"/>
<line x1="1316.5" y1="597.57" x2="1324.9" y2="597.57" stroke="#000" stroke-width="1.8" stroke-linecap="butt"/>
<rect x="1313.2" y="615.88" width="15" height="254.92" fill="#000"/>
<rect x="1317" y="620.08" width="7.4" height="250.72" fill="#a3a3a8"/>
<line x1="1343.3" y1="833.57" x2="1343.3" y2="835.9" stroke="#000" stroke-width="1.8" stroke-linecap="butt"/>
<line x1="1339.1" y1="833.57" x2="1347.5" y2="833.57" stroke="#000" stroke-width="1.8" stroke-linecap="butt"/>
<rect x="1335.8" y="834.9" width="15" height="35.9" fill="#000"/>
<rect x="1339.6" y="839.1" width="7.4" height="31.7" fill="#858585"/>
<line x1="1366" y1="840.53" x2="1366" y2="843.14" stroke="#000" stroke-width="1.8" stroke-linecap="butt"/>
<line x1="1361.8" y1="840.53" x2="1370.2" y2="840.53" stroke="#000" stroke-width="1.8" stroke-linecap="butt"/>
<rect x="1358.5" y="842.14" width="15" height="28.66" fill="#000"/>
<rect x="1362.3" y="846.34" width="7.4" height="24.46" fill="#d9d9d9"/>
<rect x="1396.3" y="594.73" width="15" height="276.07" fill="#000"/>
<line x1="1426.5" y1="597.3" x2="1426.5" y2="617.43" stroke="#000" stroke-width="1.8" stroke-linecap="butt"/>
<line x1="1422.3" y1="597.3" x2="1430.7" y2="597.3" stroke="#000" stroke-width="1.8" stroke-linecap="butt"/>
<rect x="1419" y="616.43" width="15" height="254.37" fill="#000"/>
<rect x="1422.8" y="620.63" width="7.4" height="250.17" fill="#a3a3a8"/>
<rect x="1441.6" y="850.21" width="15" height="20.59" fill="#000"/>
<rect x="1445.4" y="854.41" width="7.4" height="16.39" fill="#858585"/>
<rect x="1464.3" y="848.81" width="15" height="21.99" fill="#000"/>
<rect x="1468.1" y="853.01" width="7.4" height="17.79" fill="#d9d9d9"/>
<line x1="1511.3" y1="636.4" x2="1511.3" y2="642.9" stroke="#000" stroke-width="1.8" stroke-linecap="butt"/>
<line x1="1507.1" y1="636.4" x2="1515.5" y2="636.4" stroke="#000" stroke-width="1.8" stroke-linecap="butt"/>
<rect x="1503.8" y="641.9" width="15" height="228.9" fill="#000"/>
<line x1="1534" y1="707.92" x2="1534" y2="716.65" stroke="#000" stroke-width="1.8" stroke-linecap="butt"/>
<line x1="1529.8" y1="707.92" x2="1538.2" y2="707.92" stroke="#000" stroke-width="1.8" stroke-linecap="butt"/>
<rect x="1526.5" y="715.65" width="15" height="155.15" fill="#000"/>
<rect x="1530.3" y="719.85" width="7.4" height="150.95" fill="#a3a3a8"/>
<line x1="1556.6" y1="848.88" x2="1556.6" y2="851.48" stroke="#000" stroke-width="1.8" stroke-linecap="butt"/>
<line x1="1552.4" y1="848.88" x2="1560.8" y2="848.88" stroke="#000" stroke-width="1.8" stroke-linecap="butt"/>
<rect x="1549.1" y="850.48" width="15" height="20.32" fill="#000"/>
<rect x="1552.9" y="854.68" width="7.4" height="16.12" fill="#858585"/>
<line x1="1617.5" y1="844.15" x2="1617.5" y2="847.03" stroke="#000" stroke-width="1.8" stroke-linecap="butt"/>
<line x1="1613.3" y1="844.15" x2="1621.7" y2="844.15" stroke="#000" stroke-width="1.8" stroke-linecap="butt"/>
<rect x="1610" y="846.03" width="15" height="24.77" fill="#000"/>
<line x1="1280.9" y1="870.8" x2="1702.1" y2="870.8" stroke="#000" stroke-width="2.8" stroke-linecap="butt"/>
<text transform="translate(1217.1,730.6) rotate(-90) scale(1.1,1)" font-size="22.4" font-weight="normal" text-anchor="middle" stroke="#000" stroke-width="0.75">Bacteria survival rate (%)</text>
<text transform="translate(0,904.8) scale(1,1.064)" font-size="21.5" font-weight="bold"><tspan x="1310.6 1325.7" y="0">70</tspan></text>
<text x="1339.8" y="904.9" font-size="23.1" font-family="Liberation Sans, NanumGothic, sans-serif" font-weight="normal" stroke="#000" stroke-width="0.3">℃</text>
<text transform="translate(0,904.8) scale(1,1.064)" font-size="21.5" font-weight="bold"><tspan x="1418 1432.5" y="0">80</tspan></text>
<text x="1446.9" y="904.9" font-size="23.1" font-family="Liberation Sans, NanumGothic, sans-serif" font-weight="normal" stroke="#000" stroke-width="0.3">℃</text>
<text transform="translate(0,904.8) scale(1,1.064)" font-size="21.5" font-weight="bold"><tspan x="1524.6 1538.7" y="0">90</tspan></text>
<text x="1553.3" y="904.9" font-size="23.1" font-family="Liberation Sans, NanumGothic, sans-serif" font-weight="normal" stroke="#000" stroke-width="0.3">℃</text>
<text transform="translate(0,904.8) scale(1,1.064)" font-size="21.5" font-weight="bold"><tspan x="1625.5 1638.7 1652.6" y="0">100</tspan></text>
<text x="1665.5" y="904.9" font-size="23.1" font-family="Liberation Sans, NanumGothic, sans-serif" font-weight="normal" stroke="#000" stroke-width="0.3">℃</text>
<rect x="1659.5" y="587.3" width="30" height="15" fill="#000"/>
<text transform="translate(1705.7,602.8) scale(1,1.05)" font-size="22" font-weight="normal" text-anchor="start">3min</text>
<rect x="1659.5" y="625.5" width="30" height="15" fill="#000"/>
<rect x="1663.8" y="629.3" width="21.4" height="7.4" fill="#a3a3a8"/>
<text transform="translate(1705.7,641) scale(1,1.05)" font-size="22" font-weight="normal" text-anchor="start">5min</text>
<rect x="1659.5" y="663.7" width="30" height="15" fill="#000"/>
<rect x="1663.8" y="667.5" width="21.4" height="7.4" fill="#858585"/>
<text transform="translate(1705.7,679.2) scale(1,1.05)" font-size="22" font-weight="normal" text-anchor="start">10min</text>
<rect x="1659.5" y="701.9" width="30" height="15" fill="#000"/>
<rect x="1663.8" y="705.7" width="21.4" height="7.4" fill="#d9d9d9"/>
<text transform="translate(1705.7,717.4) scale(1,1.05)" font-size="22" font-weight="normal" text-anchor="start">15min</text>
<rect x="1297" y="582.95" width="21.2" height="3.9" fill="#000"/>
<text transform="translate(1306.95,587.5) scale(0.95,0.85)" font-size="22" font-weight="500" text-anchor="middle" font-family='"Noto Sans CJK SC", sans-serif'>*</text>
<rect x="1297" y="565.75" width="43.9" height="3.9" fill="#000"/>
<text transform="translate(1318.03,570.3) scale(0.95,0.85)" font-size="22" font-weight="500" text-anchor="middle" font-family='"Noto Sans CJK SC", sans-serif' letter-spacing="-0.35">**</text>
<rect x="1297" y="547.55" width="74.9" height="3.9" fill="#000"/>
<text transform="translate(1330.18,552.1) scale(0.95,0.85)" font-size="22" font-weight="500" text-anchor="middle" font-family='"Noto Sans CJK SC", sans-serif' letter-spacing="-0.35">**</text>
<rect x="1403.3" y="582.95" width="23.7" height="3.9" fill="#000"/>
<text transform="translate(1416.25,587.5) scale(0.95,0.85)" font-size="22" font-weight="500" text-anchor="middle" font-family='"Noto Sans CJK SC", sans-serif'>*</text>
<rect x="1403.3" y="565.75" width="42" height="3.9" fill="#000"/>
<text transform="translate(1424.78,570.3) scale(0.95,0.85)" font-size="22" font-weight="500" text-anchor="middle" font-family='"Noto Sans CJK SC", sans-serif' letter-spacing="-0.35">**</text>
<rect x="1404.9" y="547.55" width="74.6" height="3.9" fill="#000"/>
<text transform="translate(1438.48,552.1) scale(0.95,0.85)" font-size="22" font-weight="500" text-anchor="middle" font-family='"Noto Sans CJK SC", sans-serif' letter-spacing="-0.35">**</text>
<rect x="1510.7" y="623.95" width="26.9" height="3.9" fill="#000"/>
<text transform="translate(1524.28,628.5) scale(0.95,0.85)" font-size="22" font-weight="500" text-anchor="middle" font-family='"Noto Sans CJK SC", sans-serif' letter-spacing="-0.35">**</text>
<rect x="1510.7" y="605.65" width="48.2" height="3.9" fill="#000"/>
<text transform="translate(1533.38,610.2) scale(0.95,0.85)" font-size="22" font-weight="500" text-anchor="middle" font-family='"Noto Sans CJK SC", sans-serif' letter-spacing="-0.35">**</text>
</svg></body></html>
